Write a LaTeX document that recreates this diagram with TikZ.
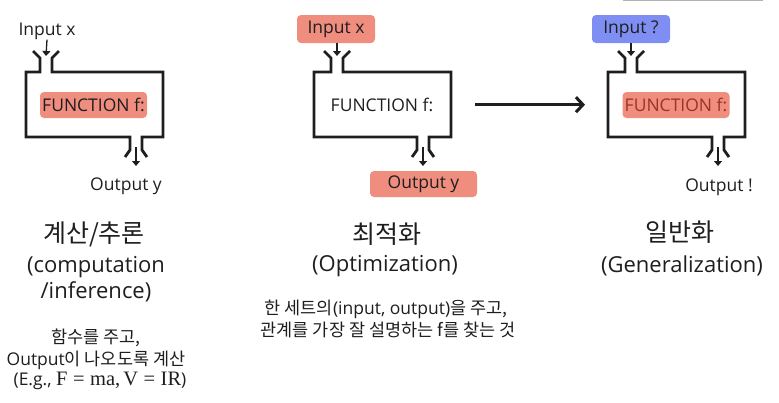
\documentclass[tikz,border=0pt]{standalone}
\usepackage[no-math]{fontspec}
\setmainfont{Open Sans}
\newfontfamily\kr{Noto Sans CJK KR}
\newfontfamily\serifmath{Liberation Serif}
\usetikzlibrary{arrows.meta}
\definecolor{salmon}{HTML}{EF8D7F}
\definecolor{bluebox}{HTML}{7F8EF2}
\definecolor{ink}{HTML}{1E1E1E}
\definecolor{redink}{HTML}{9B3328}
\newcommand\machine[4]{% #1 name, #2 left x, #3 input x, #4 output x
  \node[inner sep=0pt, minimum width=137pt, minimum height=65pt, anchor=north west] (#1) at (#2,72) {};
  \draw[mline] ({#3-13},51)--({#3-6},58)--({#3-6},72)--(#2,72)--(#2,137)--({#4-6},137)--({#4-6},150)--({#4-11},157);
  \draw[mline] ({#4+11},157)--({#4+6},150)--({#4+6},137)--({#2+137},137)--({#2+137},72)--({#3+6},72)--({#3+6},58)--({#3+13},51);
  \coordinate (#1in) at (#3,56);
  \coordinate (#1oa) at (#4,147);
  \coordinate (#1ob) at (#4,166);
  \draw[sarr] (#1oa) -- (#1ob);
}
\newcommand\eqs{\hspace{5.5pt}=\hspace{5.5pt}}
\begin{document}
\begin{tikzpicture}[x=1pt,y=-1pt,
  mline/.style={line width=2.8pt, ink, line join=miter},
  sarr/.style={line width=1.3pt, ink, -{Triangle[length=5pt,width=8pt]}},
  bigarr/.style={line width=3pt, ink, -{Straight Barb[length=7pt,width=15pt]}},
  txt/.style={font=\fontsize{17.5}{21}\selectfont, inner sep=0pt, text=ink},
  hl/.style={txt, fill=salmon, rounded corners=4pt, minimum width=107pt, minimum height=26pt},
  bl/.style={txt, fill=bluebox, rounded corners=4pt, minimum width=78pt, minimum height=28pt},
  ttl/.style={font=\kr\fontsize{25}{30}\selectfont, inner sep=0pt, text=ink},
  sub/.style={font=\fontsize{22}{26}\selectfont, inner sep=0pt, text=ink},
  body/.style={font=\fontsize{17.5}{20}\selectfont, inner sep=0pt, text=ink}
]
\useasboundingbox (0,0) rectangle (779,402);
\draw[gray!60, line width=1pt] (623,0.5) -- (763,0.5);

% ---- diagram 1
\machine{m1}{26}{46}{136}
\node[txt] (in1) at (47,31) {Input x};
\draw[sarr] (in1.south) -- (m1in);
\node[hl] (f1) at (93.5,105) {FUNCTION f:};
\node[txt] (out1) at (126,186) {Output y};

% ---- diagram 2
\machine{m2}{314}{337}{423}
\node[hl, minimum width=78pt, minimum height=28pt] (in2) at (336,29) {Input x};
\draw[sarr] (in2.south -| m2in) -- (m2in);
\node[txt] (f2) at (382,105) {FUNCTION f:};
\node[hl] (out2) at (423.5,184) {Output y};

% ---- diagram 3
\machine{m3}{608}{631}{718}
\node[bl] (in3) at (631,29) {Input ?};
\draw[sarr] (in3.south -| m3in) -- (m3in);
\node[hl, text=redink] (f3) at (676,105) {FUNCTION f:};
\node[txt] (out3) at (719,187) {Output !};

% ---- main arrow
\draw[bigarr, shorten <=24pt, shorten >=23pt] (m2) -- (m3);

% ---- titles and texts
\node[ttl] (t1) at (94,234) {계산/추론};
\node[sub] (s1a) at (96,267) {(computation};
\node[sub] (s1b) at (96,292) {/inference)};
\node[body] (b1a) at (96,338) {\kr 함수를 주고,};
\node[body] (b1b) at (96,360) {Output{\kr 이 나오도록 계산}};
\node[body] (b1c) at (100,381) {(E.g., {\serifmath\fontsize{20.5}{22}\selectfont F\eqs ma,\hspace{3pt}V\eqs IR})};

\node[ttl] (t2) at (387,234) {최적화};
\node[sub] (s2) at (385,266) {(Optimization)};
\node[body] (b2a) at (386,309) {{\kr 한 세트의}(input, output){\kr 을 주고,}};
\node[body] (b2b) at (388,330) {\kr 관계를 가장 잘 설명하는 f를 찾는 것};

\node[ttl] (t3) at (680,232) {일반화};
\node[sub] (s3) at (682,266) {(Generalization)};
\end{tikzpicture}
\end{document}
